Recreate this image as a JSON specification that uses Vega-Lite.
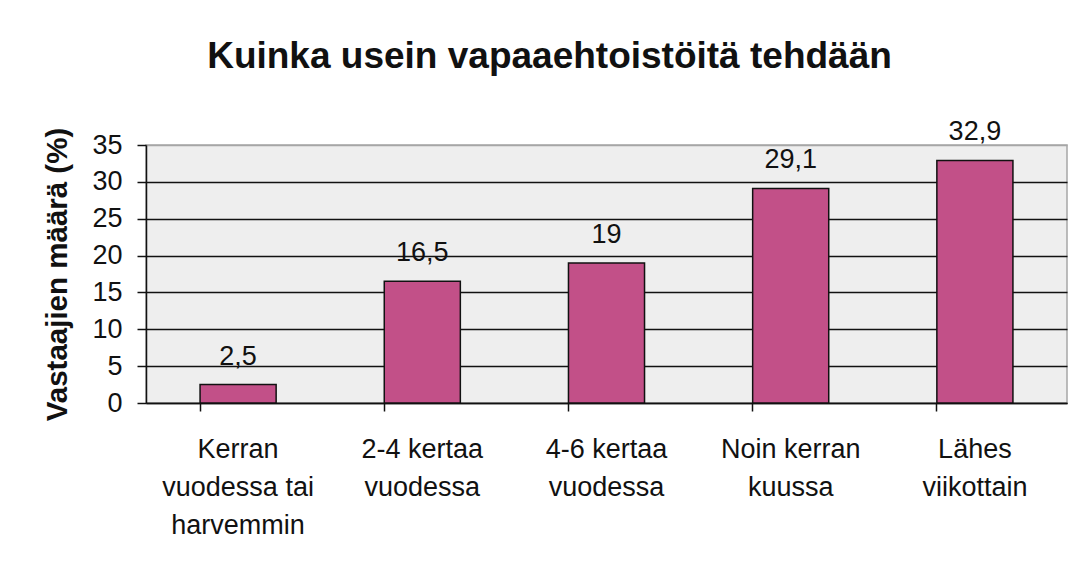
{
  "$schema": "https://vega.github.io/schema/vega-lite/v6.json",
  "width": 921,
  "height": 258,
  "autosize": {"type": "none"},
  "padding": {"left": 146, "top": 145, "right": 15, "bottom": 167},
  "background": "white",
  "title": {
    "text": "Kuinka usein vapaaehtoistöitä tehdään",
    "font": "Liberation Sans",
    "fontSize": 37,
    "fontWeight": "bold",
    "color": "#111111",
    "anchor": "middle",
    "frame": "group",
    "dx": -57,
    "offset": 42
  },
  "data": {
    "values": [
      {"luokka": "Kerran vuodessa tai harvemmin", "osuus": 2.5},
      {"luokka": "2-4 kertaa vuodessa", "osuus": 16.5},
      {"luokka": "4-6 kertaa vuodessa", "osuus": 19},
      {"luokka": "Noin kerran kuussa", "osuus": 29.1},
      {"luokka": "Lähes viikottain", "osuus": 32.9}
    ]
  },
  "encoding": {
    "x": {
      "field": "luokka",
      "type": "nominal",
      "sort": null,
      "scale": {"paddingInner": 0.587, "paddingOuter": 0.2935},
      "axis": {
        "title": null,
        "bandPosition": 0,
        "domainColor": "#111111",
        "domainWidth": 1.5,
        "tickColor": "#111111",
        "tickWidth": 1.5,
        "tickSize": 8,
        "labelAngle": 0,
        "labelFont": "Liberation Sans",
        "labelFontSize": 27,
        "labelColor": "#111111",
        "labelPadding": 25,
        "labelLineHeight": 38,
        "labelLimit": 0,
        "labelExpr": "datum.value === 'Kerran vuodessa tai harvemmin' ? ['Kerran', 'vuodessa tai', 'harvemmin'] : datum.value === '2-4 kertaa vuodessa' ? ['2-4 kertaa', 'vuodessa'] : datum.value === '4-6 kertaa vuodessa' ? ['4-6 kertaa', 'vuodessa'] : datum.value === 'Noin kerran kuussa' ? ['Noin kerran', 'kuussa'] : ['Lähes', 'viikottain']"
      }
    },
    "y": {
      "field": "osuus",
      "type": "quantitative",
      "scale": {"domain": [0, 35], "nice": false},
      "axis": {
        "title": "Vastaajien määrä (%)",
        "titleFont": "Liberation Sans",
        "titleFontSize": 29.5,
        "titleFontWeight": "bold",
        "titleColor": "#111111",
        "titlePadding": 19,
        "values": [0, 5, 10, 15, 20, 25, 30, 35],
        "domainColor": "#111111",
        "domainWidth": 1.5,
        "tickColor": "#111111",
        "tickWidth": 1.5,
        "tickSize": 9,
        "labelFont": "Liberation Sans",
        "labelFontSize": 27,
        "labelColor": "#111111",
        "labelPadding": 15,
        "grid": true,
        "gridColor": {"condition": {"test": "datum.value === 35", "value": "#a6a6a6"}, "value": "#111111"},
        "gridWidth": 1.5
      }
    }
  },
  "layer": [
    {
      "mark": {"type": "bar", "fill": "#c25088", "stroke": "#111111", "strokeWidth": 1.5}
    },
    {
      "mark": {"type": "text", "baseline": "alphabetic", "dy": -20, "font": "Liberation Sans", "fontSize": 27, "color": "#111111"},
      "encoding": {
        "text": {"field": "osuus", "type": "quantitative", "format": "~g"}
      }
    }
  ],
  "config": {
    "locale": {"number": {"decimal": ",", "thousands": " ", "grouping": [3], "currency": ["", " €"]}},
    "view": {"fill": "#eeeeee", "stroke": "#a6a6a6", "strokeWidth": 1.5}
  }
}
